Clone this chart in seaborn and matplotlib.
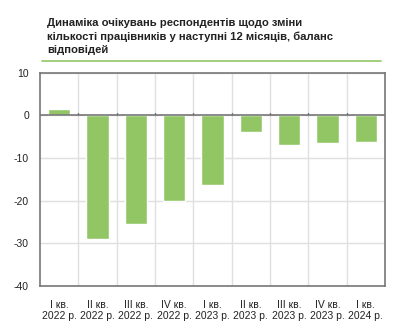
import matplotlib
matplotlib.use("Agg")
import matplotlib.pyplot as plt
import seaborn as sns
import pandas as pd
import numpy as np

quarters = ["I кв.", "II кв.", "III кв.", "IV кв.", "I кв.", "II кв.", "III кв.", "IV кв.", "I кв."]
years = ["2022 р.", "2022 р.", "2022 р.", "2022 р.", "2023 р.", "2023 р.", "2023 р.", "2023 р.", "2024 р."]
values = [1.4, -28.9, -25.4, -20.0, -16.3, -3.8, -7.0, -6.5, -6.2]
title = "Динаміка очікувань респондентів щодо зміни\nкількості працівників у наступні 12 місяців, баланс\nвідповідей"

labels = [f"{q}\n{y}" for q, y in zip(quarters, years)]
df = pd.DataFrame({"label": [f"{i}" for i in range(len(values))], "value": values})

sns.set_theme(style="white")
plt.rcParams["font.family"] = ["Liberation Sans", "DejaVu Sans"]

fig = plt.figure(figsize=(4.0, 3.32), dpi=100)
ax = fig.add_axes([0.10, 0.138, 0.8625, 0.643])

sns.barplot(data=df, x="label", y="value", color="#92C665", saturation=1,
            width=0.58, ax=ax, zorder=3)

n = len(values)
ax.set_xlim(-0.5, n - 0.5)
ax.set_ylim(-40, 10)
ax.set_yticks(np.arange(-40, 11, 10))
ax.set_yticklabels([str(v) for v in range(-40, 11, 10)], fontsize=7.5, color="#222222")
ax.set_xticks(range(n))
ax.set_xticklabels(labels, fontsize=7.5, color="#222222", linespacing=1.15)
ax.set_xticks(np.arange(0.5, n - 0.5, 1), minor=True)
ax.tick_params(axis="x", which="major", length=0, pad=10)
ax.tick_params(axis="x", which="minor", length=0)
ax.tick_params(axis="y", length=0, pad=8)
ax.grid(True, which="minor", axis="x", color="#e0e0e0", linewidth=1, zorder=0)
ax.grid(True, which="major", axis="y", color="#e0e0e0", linewidth=1, zorder=0)
ax.axhline(0, color="#777777", linewidth=1.2, zorder=4)
for xb in np.arange(0.5, n - 0.5, 1):
    ax.plot([xb, xb], [0, 0.6], color="#777777", linewidth=1, zorder=4)
ax.set_xlabel("")
ax.set_ylabel("")
for s in ax.spines.values():
    s.set_color("#777777")
    s.set_linewidth(1.2)

fig.text(0.118, 0.945, title, fontsize=8.1, fontweight="bold", color="#222222",
         va="top", ha="left", linespacing=1.4)
fig.add_artist(plt.Line2D([0.105, 0.952], [0.817, 0.817], color="#92C665", linewidth=1.2))

fig.savefig("out.png", dpi=100)
